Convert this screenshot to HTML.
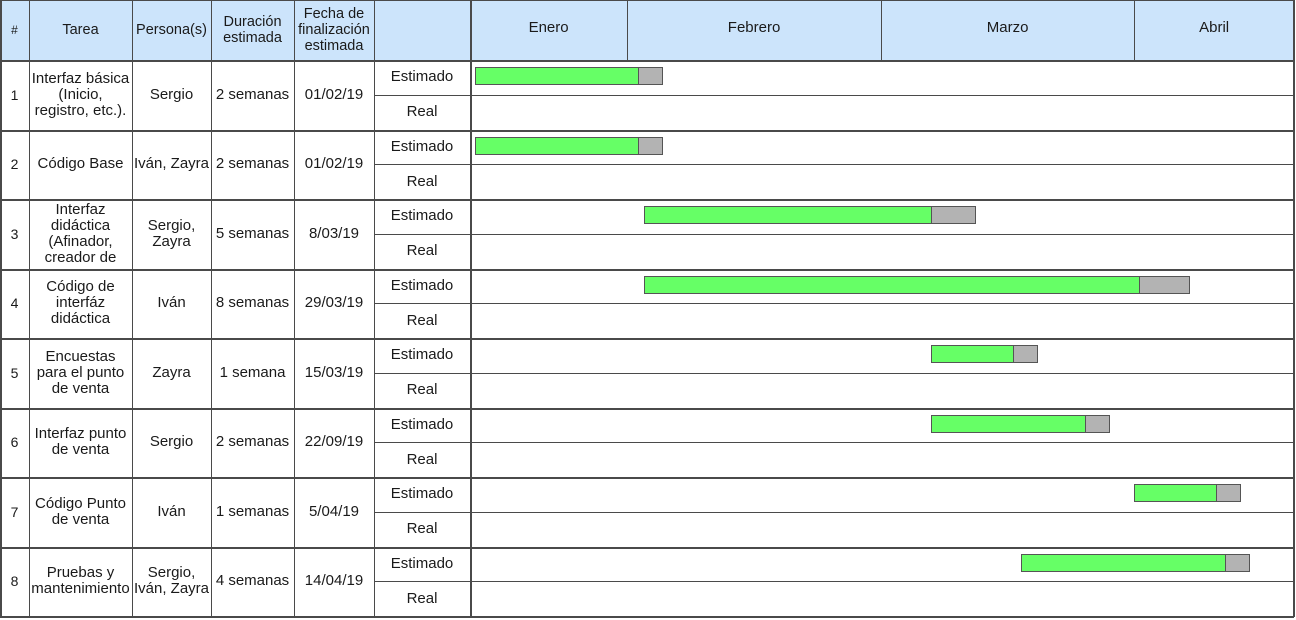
<!DOCTYPE html>
<html><head><meta charset="utf-8">
<style>
html,body{margin:0;padding:0;background:#fff;}
#root{position:relative;width:1296px;height:620px;overflow:hidden;font-family:"Liberation Sans",sans-serif;color:#1a1a1a;}
.c{position:absolute;box-sizing:border-box;display:flex;align-items:center;justify-content:center;text-align:center;font-size:15px;line-height:16px;}
.h{background:#cce4fb;}
.ln{position:absolute;background:#4a4a4a;}
.bar{position:absolute;box-sizing:border-box;border:1.5px solid #555;}
</style></head>
<body><div id="root"></div>
<script>
const tasks=["Interfaz básica (Inicio, registro, etc.).","Código Base","Interfaz didáctica (Afinador, creador de","Código de interfáz didáctica","Encuestas para el punto de venta","Interfaz punto de venta","Código Punto de venta","Pruebas y mantenimiento"];
const people=["Sergio","Iván, Zayra","Sergio, Zayra","Iván","Zayra","Sergio","Iván","Sergio, Iván, Zayra"];
const durations=["2 semanas","2 semanas","5 semanas","8 semanas","1 semana","2 semanas","1 semanas","4 semanas"];
const endDates=["01/02/19","01/02/19","8/03/19","29/03/19","15/03/19","22/09/19","5/04/19","14/04/19"];
const months=["Enero","Febrero","Marzo","Abril"];
const monthStarts=[0,3.09,8.08,13.06];
const timelineEnd=16.2;
const barStart=[0.10,0.10,3.42,3.42,9.06,9.06,13.06,10.83];
const barEnd=[3.30,3.30,9.06,13.15,10.68,12.09,14.67,14.84];
const slackEnd=[3.79,3.79,9.95,14.16,11.17,12.58,15.16,15.34];

const root=document.getElementById('root');
const GX0=470,GX1=1294,HEAD=60,ROWH=69.5;
function x(v){return GX0+(v/timelineEnd)*(GX1-GX0);}
function cell(l,t,w,h,txt,cls){const d=document.createElement('div');d.className='c '+(cls||'');d.style.left=l+'px';d.style.top=t+'px';d.style.width=w+'px';d.style.height=h+'px';d.textContent=txt;root.appendChild(d);return d;}
function line(l,t,w,h){const d=document.createElement('div');d.className='ln';d.style.left=l+'px';d.style.top=t+'px';d.style.width=w+'px';d.style.height=h+'px';


root.appendChild(d);}
const cols=[0,29,132,211,294,374,470];
const heads=["#","Tarea","Persona(s)","Duración estimada","Fecha de finalización estimada",""];
const hnames=["header-number","header-task","header-people","header-duration","header-end-date","header-type"];
for(let i=0;i<6;i++){const d=cell(cols[i],0,cols[i+1]-cols[i],HEAD,heads[i],'h');if(i==0)d.style.fontSize='12px';
if(i>0){d.style.fontSize='14.5px';}

}
for(let m=0;m<months.length;m++){const l=x(monthStarts[m]);const r=m+1<months.length?x(monthStarts[m+1]):GX1;
const bg=document.createElement('div');bg.className='c h';bg.style.left=l+'px';bg.style.top='0px';bg.style.width=(r-l)+'px';bg.style.height=HEAD+'px';


root.appendChild(bg);
const d=cell(l,0,r-l,56,months[m]);

}
for(let i=0;i<tasks.length;i++){
 const t=HEAD+i*ROWH;
 const vals=[String(i+1),tasks[i],people[i],durations[i],endDates[i]];
 const nm=["task-number","task-name","task-people","task-duration","task-end-date"];
 for(let j=0;j<5;j++){const d=cell(cols[j]+1,t,cols[j+1]-cols[j]-2,ROWH,vals[j]);
 if(j==0)d.style.fontSize='14px';
 
 }
 let d=cell(374,t,96,ROWH/2,"Estimado");
 
 
 d=cell(374,t+ROWH/2,96,ROWH/2,"Real");
 
 
 const g=document.createElement('div');g.className='bar';g.style.background='#66ff66';
 g.style.left=x(barStart[i])+'px';g.style.width=(x(barEnd[i])-x(barStart[i])+1)+'px';g.style.top=(t+7)+'px';g.style.height='18px';
 
 
 root.appendChild(g);
 const s=document.createElement('div');s.className='bar';s.style.background='#b3b3b3';
 s.style.left=x(barEnd[i])+'px';s.style.width=(x(slackEnd[i])-x(barEnd[i]))+'px';s.style.top=(t+7)+'px';s.style.height='18px';
 
 
 root.appendChild(s);
 line(0,Math.round(t),GX1,i==0?2:1.5);
 line(374,Math.round(t+ROWH/2),GX1-374,1.2);
}
line(0,Math.round(HEAD+tasks.length*ROWH),GX1,1.5);
line(0,0,GX1,1);
for(const c of cols){line(c===0?0:c-0.5,0,1.5,HEAD+tasks.length*ROWH);}
line(GX0+1,0,1.2,HEAD+tasks.length*ROWH);
line(GX1-1,0,1.5,HEAD+tasks.length*ROWH+1);
for(let m=1;m<monthStarts.length;m++){line(x(monthStarts[m]),0,1.2,HEAD);}
</script></body></html>
